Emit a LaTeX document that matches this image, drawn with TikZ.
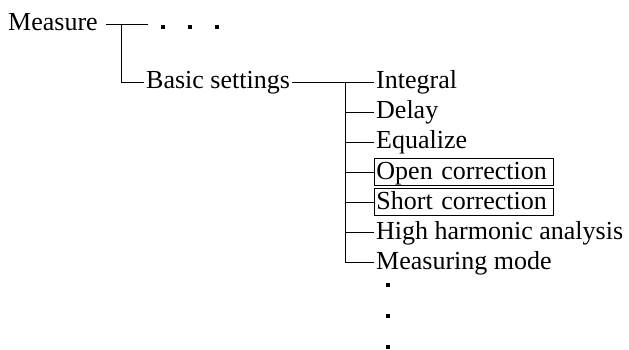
\documentclass[tikz,border=0pt]{standalone}
\usepackage{fontspec}
\setmainfont{Liberation Serif}
\usetikzlibrary{positioning}
\tikzset{
  item/.style={anchor=west, inner xsep=2pt, inner ysep=2pt, text height=18pt, text depth=4pt},
  boxed/.style={item, draw, line width=0.9pt, inner ysep=2.5pt, minimum width=179pt, text width=175pt, align=left},
  wire/.style={line width=0.9pt},
  dot/.style={fill=black, minimum size=4.5pt, inner sep=0pt},
}
\def\xF{121}
\def\xT{345}
\def\xI{374}

\begin{document}
\begin{tikzpicture}[x=1pt, y=-1pt, font=\fontsize{26}{30}\selectfont]
\useasboundingbox (0,0) rectangle (629,350);

% first level
\node[item] (measure) at (6,24) {Measure};
\coordinate (mend) at (148,24);
\coordinate (mfork) at (\xF,24);
\draw[wire] ([xshift=6pt]measure.east) -- (mend);
\foreach \x in {163,190,217} \node[dot] at (\x,27) {};
\node[item] (basic) at (144,82) {Basic settings};
\draw[wire] (mfork) |- (basic.west);

% second level
\node[item] (integral) at (\xI,82) {Integral};
\node[item] (delay) at (\xI,112) {Delay};
\node[item] (equalize) at (\xI,142) {Equalize};
\node[boxed] (open) at (\xI,172) {Open correction};
\node[boxed] (short) at (\xI,202) {Short correction};
\node[item] (harmonic) at (\xI,232) {High harmonic analysis};
\node[item] (measuring) at (\xI,262) {Measuring mode};
\coordinate (fork) at (\xT,82);
\draw[wire] (basic.east) -- (integral.west);
\draw[wire] (fork) |- (measuring.west);
\foreach \n in {delay,equalize,open,short,harmonic} \draw[wire] (fork |- \n.west) -- (\n.west);
\foreach \y in {285,316,347} \node[dot] at (388,\y) {};

\end{tikzpicture}
\end{document}
